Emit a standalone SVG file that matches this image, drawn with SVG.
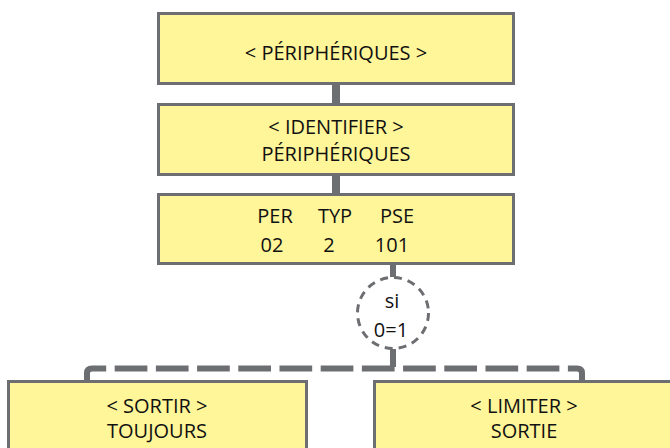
<svg xmlns="http://www.w3.org/2000/svg" width="670" height="448" viewBox="0 0 670 448">
<style>
.box{fill:#fff599;stroke:#6d6e71;stroke-width:3}
.t{font-family:"Open Sans","Noto Sans",sans-serif;font-size:20px;fill:#111;text-anchor:middle}
.stem{fill:#6d6e71}
</style>
<rect width="670" height="448" fill="#fff"/>
<g id="connectors">
<rect class="stem" x="332" y="85" width="8" height="18"/>
<rect class="stem" x="332" y="176" width="8" height="17"/>
<rect class="stem" x="390" y="265" width="6" height="12"/>
<rect class="stem" x="390" y="349" width="6" height="18"/>
<path d="M87 381 V373 Q87 368.5 92 368.5 H577 Q582 368.5 582 373 V381" fill="none" stroke="#6d6e71" stroke-width="6" stroke-dasharray="32.7 8.5" stroke-dashoffset="3"/>
</g>
<g id="n1">
<rect class="box" x="158.5" y="13.5" width="355" height="70"/>
<text class="t" x="336" y="60">&lt; PÉRIPHÉRIQUES &gt;</text>
</g>
<g id="n2">
<rect class="box" x="158.5" y="104.5" width="355" height="70"/>
<text class="t" x="336" y="134">&lt; IDENTIFIER &gt;</text>
<text class="t" x="336" y="161">PÉRIPHÉRIQUES</text>
</g>
<g id="n3">
<rect class="box" x="158.5" y="194.5" width="355" height="69"/>
<text class="t" x="275" y="223">PER</text>
<text class="t" x="335" y="223">TYP</text>
<text class="t" x="397" y="223">PSE</text>
<text class="t" x="272" y="252">02</text>
<text class="t" x="329" y="252">2</text>
<text class="t" x="392" y="252">101</text>
</g>
<g id="cond">
<circle cx="393" cy="313" r="35.5" fill="#fff" stroke="#6d6e71" stroke-width="3" stroke-dasharray="8 6"/>
<text class="t" x="392" y="308">si</text>
<text class="t" x="391" y="337">0=1</text>
</g>
<g id="n4">
<rect class="box" x="8.5" y="381.5" width="298" height="80"/>
<text class="t" x="157" y="413">&lt; SORTIR &gt;</text>
<text class="t" x="157" y="438">TOUJOURS</text>
</g>
<g id="n5">
<rect class="box" x="374.5" y="381.5" width="320" height="80"/>
<text class="t" x="524" y="413">&lt; LIMITER &gt;</text>
<text class="t" x="524" y="438">SORTIE</text>
</g>
</svg>
